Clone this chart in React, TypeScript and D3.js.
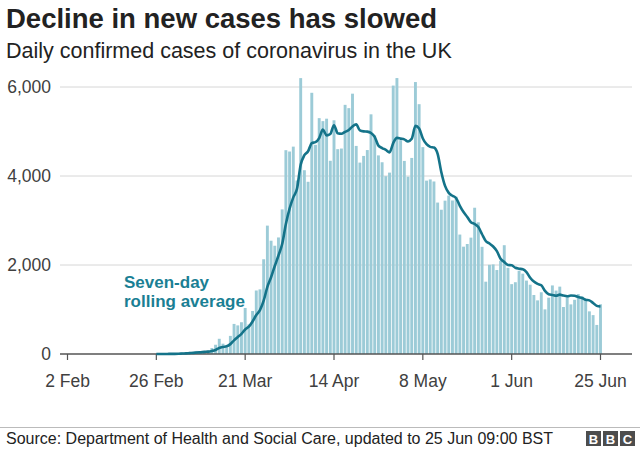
import * as d3 from "d3";

const W = 640;
const H = 449;
const FONT = "'Liberation Sans', Arial, Helvetica, sans-serif";

const titleText = "Decline in new cases has slowed";
const subtitleText = "Daily confirmed cases of coronavirus in the UK";
const sourceText = "Source: Department of Health and Social Care, updated to 25 Jun 09:00 BST";
const annotationLines = ["Seven-day", "rolling average"];

const xTickDates = ["2020-02-02", "2020-02-26", "2020-03-21", "2020-04-14", "2020-05-08", "2020-06-01", "2020-06-25"];
const yTicks = [0, 2000, 4000, 6000];

// daily confirmed cases, first value is 28 Feb
const casesStart = "2020-02-28";
const dailyCases = [
	3, 3,
	13, 4, 11, 34, 29, 48, 45, 69, 43, 62, 77, 134, 208, 342, 232, 152, 407, 676, 643, 714, 1035, 665, 967, 1427, 1452, 2129, 2885, 2546, 2433, 2619, 3250,
	4580, 4550, 4660, 3900, 6200, 4130, 3870, 5870, 4700, 5300, 5233, 5288, 4342, 5252, 4603, 4617, 5599, 5525, 5850, 4676, 4301, 4451, 4583, 5386, 4913, 4463, 4309, 3996, 4076, 6032,
	6201, 4806, 4339, 3985, 4406, 6111, 5614, 4649, 3896, 3923, 3877, 3403, 3242, 3446, 3560, 3450, 3534, 2684, 2412, 2472, 2615, 3287, 2959, 2409, 1625, 2004, 2013, 1887, 2095, 2445, 1936,
	1570, 1613, 1871, 1805, 1650, 1557, 1326, 1205, 1387, 1003, 1266, 1541, 1425, 1514, 1056, 1279, 1115, 1218, 1346, 1295, 1221, 958, 874, 653, 1118,
];

// seven-day rolling average, first value is 26 Feb
const averageStart = "2020-02-26";
const rollingAverage = [
	0, 0, 0, 1,
	3, 3, 5, 10, 14, 20, 26, 34, 40, 47, 53, 68, 91, 134, 157, 172, 222, 307, 380, 452, 551, 613, 730, 875, 986, 1198, 1509, 1724, 1977, 2213, 2473,
	2920, 3266, 3520, 3713, 4251, 4467, 4556, 4740, 4761, 4853, 5043, 4913, 4943, 5141, 4960, 4948, 4991, 5032, 5113, 5160, 5024, 5003, 4998, 4967, 4880, 4682, 4629, 4586, 4532, 4739,
	4856, 4840, 4823, 4776, 4835, 5126, 5066, 4844, 4714, 4655, 4639, 4496, 4086, 3777, 3621, 3557, 3502, 3331, 3190, 3080, 2961, 2922, 2852, 2691, 2540, 2482, 2416, 2312, 2142, 2068, 2001,
	1993, 1937, 1917, 1905, 1841, 1715, 1627, 1575, 1543, 1419, 1342, 1326, 1308, 1334, 1313, 1298, 1314, 1307, 1279, 1260, 1219, 1205, 1147, 1081, 1066,
];

const parse = d3.utcParse("%Y-%m-%d");
const fmtTick = d3.utcFormat("%-d %b");

function App() {
	const tickDates = xTickDates.map((s) => parse(s) as Date);
	const x = d3
		.scaleUtc()
		.domain([tickDates[0], tickDates[tickDates.length - 1]])
		.range([67.5, 600.5]);
	const y = d3.scaleLinear().domain([0, 6000]).range([354, 87]);

	const c0 = parse(casesStart) as Date;
	const bars = dailyCases.map((v, i) => ({ date: d3.utcDay.offset(c0, i), v }));
	const a0 = parse(averageStart) as Date;
	const avg = rollingAverage.map((v, i) => ({ date: d3.utcDay.offset(a0, i), v }));

	const dayW = x(d3.utcDay.offset(c0, 1)) - x(c0);
	const barW = dayW - 0.8;

	const line = d3
		.line<{ date: Date; v: number }>()
		.x((d) => x(d.date))
		.y((d) => y(d.v))
		.curve(d3.curveMonotoneX);

	const gridX0 = 60;
	const gridX1 = 632;

	return (
		<svg
			width={W}
			height={H}
			style={{ position: "absolute", left: 0, top: 0, background: "#fff" }}
			fontFamily={FONT}
		>
			<text x={6} y={28} fontSize={27.5} fontWeight="bold" fill="#222">
				{titleText}
			</text>
			<text x={6} y={58} fontSize={21.5} fill="#222">
				{subtitleText}
			</text>

			{yTicks
				.filter((t) => t > 0)
				.map((t) => (
					<line key={t} x1={gridX0} x2={gridX1} y1={y(t)} y2={y(t)} stroke="#d6d6d6" strokeWidth={1} />
				))}
			{yTicks.map((t) => (
				<text key={t} x={51} y={y(t) + 6} fontSize={17.5} textAnchor="end" fill="#404040">
					{d3.format(",")(t)}
				</text>
			))}

			<g>
				{bars.map((b) => (
					<rect
						key={+b.date}
						x={x(b.date) - barW / 2}
						y={y(b.v)}
						width={barW}
						height={y(0) - y(b.v)}
						fill="#9ccbd7"
					/>
				))}
			</g>

			<line x1={gridX0} x2={gridX1} y1={y(0)} y2={y(0)} stroke="#555" strokeWidth={1.5} />
			{tickDates.map((d) => (
				<g key={+d}>
					<line x1={x(d)} x2={x(d)} y1={y(0)} y2={y(0) + 6} stroke="#555" strokeWidth={1.2} />
					<text x={x(d)} y={387} fontSize={17.5} textAnchor="middle" fill="#404040">
						{fmtTick(d)}
					</text>
				</g>
			))}

			<path d={line(avg) || ""} fill="none" stroke="#147389" strokeWidth={2.6} strokeLinejoin="round" />

			{annotationLines.map((s, i) => (
				<text key={s} x={124} y={288 + i * 19} fontSize={17} fontWeight="bold" fill="#1a7f94">
					{s}
				</text>
			))}

			<line x1={0} x2={W} y1={427.5} y2={427.5} stroke="#bbb" strokeWidth={1} />
			<text x={6} y={444} fontSize={16} fill="#222">
				{sourceText}
			</text>
			{["B", "B", "C"].map((ch, i) => (
				<g key={i} transform={`translate(${586 + i * 17},431)`}>
					<rect width={15} height={15} fill="#4d4d4d" />
					<text x={7.5} y={12.5} fontSize={13} fontWeight="bold" textAnchor="middle" fill="#fff">
						{ch}
					</text>
				</g>
			))}
		</svg>
	);
}

export default App;
